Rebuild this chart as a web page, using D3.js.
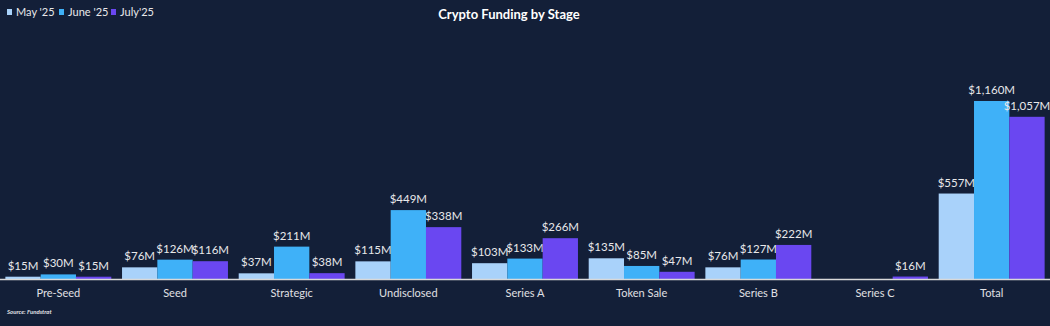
<!DOCTYPE html>
<html><head><meta charset="utf-8">
<script src="https://cdn.jsdelivr.net/npm/d3@7"></script>
<style>
html,body{margin:0;padding:0;background:#131f38;}
svg{display:block;}
</style></head>
<body><svg id="c" width="1050" height="326"></svg>
<script>
const categories = ["Pre-Seed","Seed","Strategic","Undisclosed","Series A","Token Sale","Series B","Series C","Total"];
const seriesNames = ["May '25","June '25","July'25"];
const may25  = [15, 76, 37, 115, 103, 135, 76, 0, 557];
const june25 = [30, 126, 211, 449, 133, 85, 127, 0, 1160];
const july25 = [15, 116, 38, 338, 266, 47, 222, 16, 1057];
const colors = ["#a9d2fa", "#3fb1f8", "#6a47f1"];
const title = "Crypto Funding by Stage";
const source = "Source: Fundstrat";

const seriesVals = [may25, june25, july25];
const svg = d3.select("#c");
const W = 1050, H = 326;
const font = "Lato, 'Open Sans', sans-serif";
svg.append("rect").attr("width", W).attr("height", H).attr("fill", "#131f38");

const baseY = 279;
const x0 = d3.scaleBand().domain(categories).range([0, W]).paddingInner(0.092).paddingOuter(0.046);
const x1 = d3.scaleBand().domain(seriesNames).range([0, x0.bandwidth()]);
const y = d3.scaleLinear().domain([0, 1160]).range([baseY, 101]);

const g = svg.append("g");
categories.forEach((c, i) => {
  seriesNames.forEach((s, j) => {
    const v = seriesVals[j][i];
    if (v <= 0) return;
    const bx = x0(c) + x1(s);
    g.append("rect").attr("x", bx).attr("y", y(v)).attr("width", x1.bandwidth()).attr("height", baseY - y(v))
      .attr("fill", colors[j]);
    g.append("text").attr("x", bx + x1.bandwidth() / 2).attr("y", y(v) - 7)
      .attr("text-anchor", "middle").attr("fill", "#e8e8ea").attr("font-family", font).attr("font-size", 11.5)
      .text("$" + d3.format(",")(v) + "M");
  });
});

svg.append("line").attr("x1", 0).attr("x2", W).attr("y1", baseY + 0.5).attr("y2", baseY + 0.5)
  .attr("stroke", "#d9d9d9").attr("stroke-width", 1.5);

const xAxis = d3.axisBottom(x0).tickSize(0).tickPadding(9);
const ax = svg.append("g").attr("transform", `translate(0,${baseY + 1})`).call(xAxis);
ax.select(".domain").remove();
ax.selectAll("text").attr("fill", "#e0e0e4").attr("font-family", font).attr("font-size", 11);

svg.append("text").attr("x", 509).attr("y", 19).attr("text-anchor", "middle")
  .attr("fill", "#ffffff").attr("font-family", font).attr("font-weight", "bold").attr("font-size", 13).text(title);

const legX = [7, 59, 111];
seriesNames.forEach((s, j) => {
  svg.append("rect").attr("x", legX[j]).attr("y", 9).attr("width", 5).attr("height", 6).attr("fill", colors[j]);
  svg.append("text").attr("x", legX[j] + 9).attr("y", 16).attr("fill", "#e8e8ea")
    .attr("font-family", font).attr("font-size", 11).text(s);
});

svg.append("text").attr("x", 7).attr("y", 314).attr("fill", "#e0e0e4").attr("font-family", font)
  .attr("font-size", 6).attr("font-style", "italic").attr("font-weight", "bold").text(source);
</script></body></html>
